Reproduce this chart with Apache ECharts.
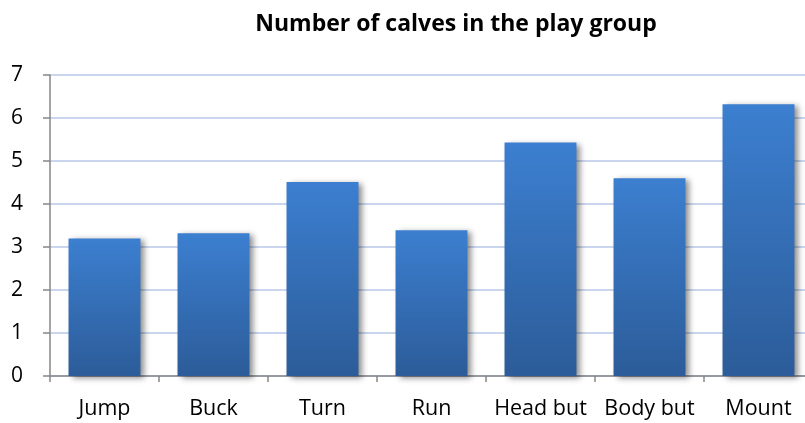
<!DOCTYPE html>
<html>
<head>
<meta charset="utf-8">
<script src="https://cdn.jsdelivr.net/npm/echarts@6/dist/echarts.min.js"></script>
<style>
  html, body { margin: 0; padding: 0; background: #fff; overflow: hidden; }
  /* the plot runs a little past the right edge of the window */
  #chart { width: 815px; height: 423px; }
</style>
</head>
<body>
<div id="chart"></div>
<script>
// Play behaviours observed among the calves
const categories = ['Jump', 'Buck', 'Turn', 'Run', 'Head but', 'Body but', 'Mount'];
const calfCounts = [3.2, 3.32, 4.51, 3.39, 5.43, 4.6, 6.32];
const yTicks = [0, 1, 2, 3, 4, 5, 6, 7];

const chart = echarts.init(document.getElementById('chart'), null, { renderer: 'canvas' });

const barFill = new echarts.graphic.LinearGradient(0, 0, 0, 1, [
  { offset: 0, color: '#3c7fd0' },
  { offset: 1, color: '#2c5c99' }
]);

chart.setOption({
  animation: false,
  backgroundColor: '#ffffff',
  title: {
    text: 'Number of calves in the play group',
    left: 451,
    top: 8,
    textAlign: 'center',
    textStyle: { fontFamily: 'Open Sans', fontWeight: 'bold', fontSize: 23, color: '#000' }
  },
  grid: { left: 50, width: 763, top: 75, height: 301, containLabel: false },
  xAxis: {
    type: 'category',
    data: categories,
    axisLine: { lineStyle: { color: '#868686', width: 1.5 } },
    axisTick: { show: true, length: 6, alignWithLabel: false, lineStyle: { color: '#868686', width: 1.5 } },
    axisLabel: { color: '#000', fontSize: 21.5, fontFamily: 'Open Sans', margin: 22, interval: 0 },
    splitLine: { show: false }
  },
  yAxis: {
    type: 'value',
    min: yTicks[0],
    max: yTicks[yTicks.length - 1],
    interval: 1,
    axisLine: { show: true, lineStyle: { color: '#868686', width: 1.5 } },
    axisTick: { show: true, length: 7, lineStyle: { color: '#868686', width: 1.5 } },
    axisLabel: { color: '#000', fontSize: 21, fontFamily: 'Open Sans', margin: 39, align: 'left' },
    splitLine: { show: true, lineStyle: { color: '#c9d6ee', width: 2 } }
  },
  series: [{
    type: 'bar',
    data: calfCounts,
    barCategoryGap: '34%',
    itemStyle: {
      color: barFill,
      shadowColor: 'rgba(0,0,0,0.45)',
      shadowBlur: 6,
      shadowOffsetX: 4,
      shadowOffsetY: 2
    }
  }]
});
</script>
</body>
</html>
